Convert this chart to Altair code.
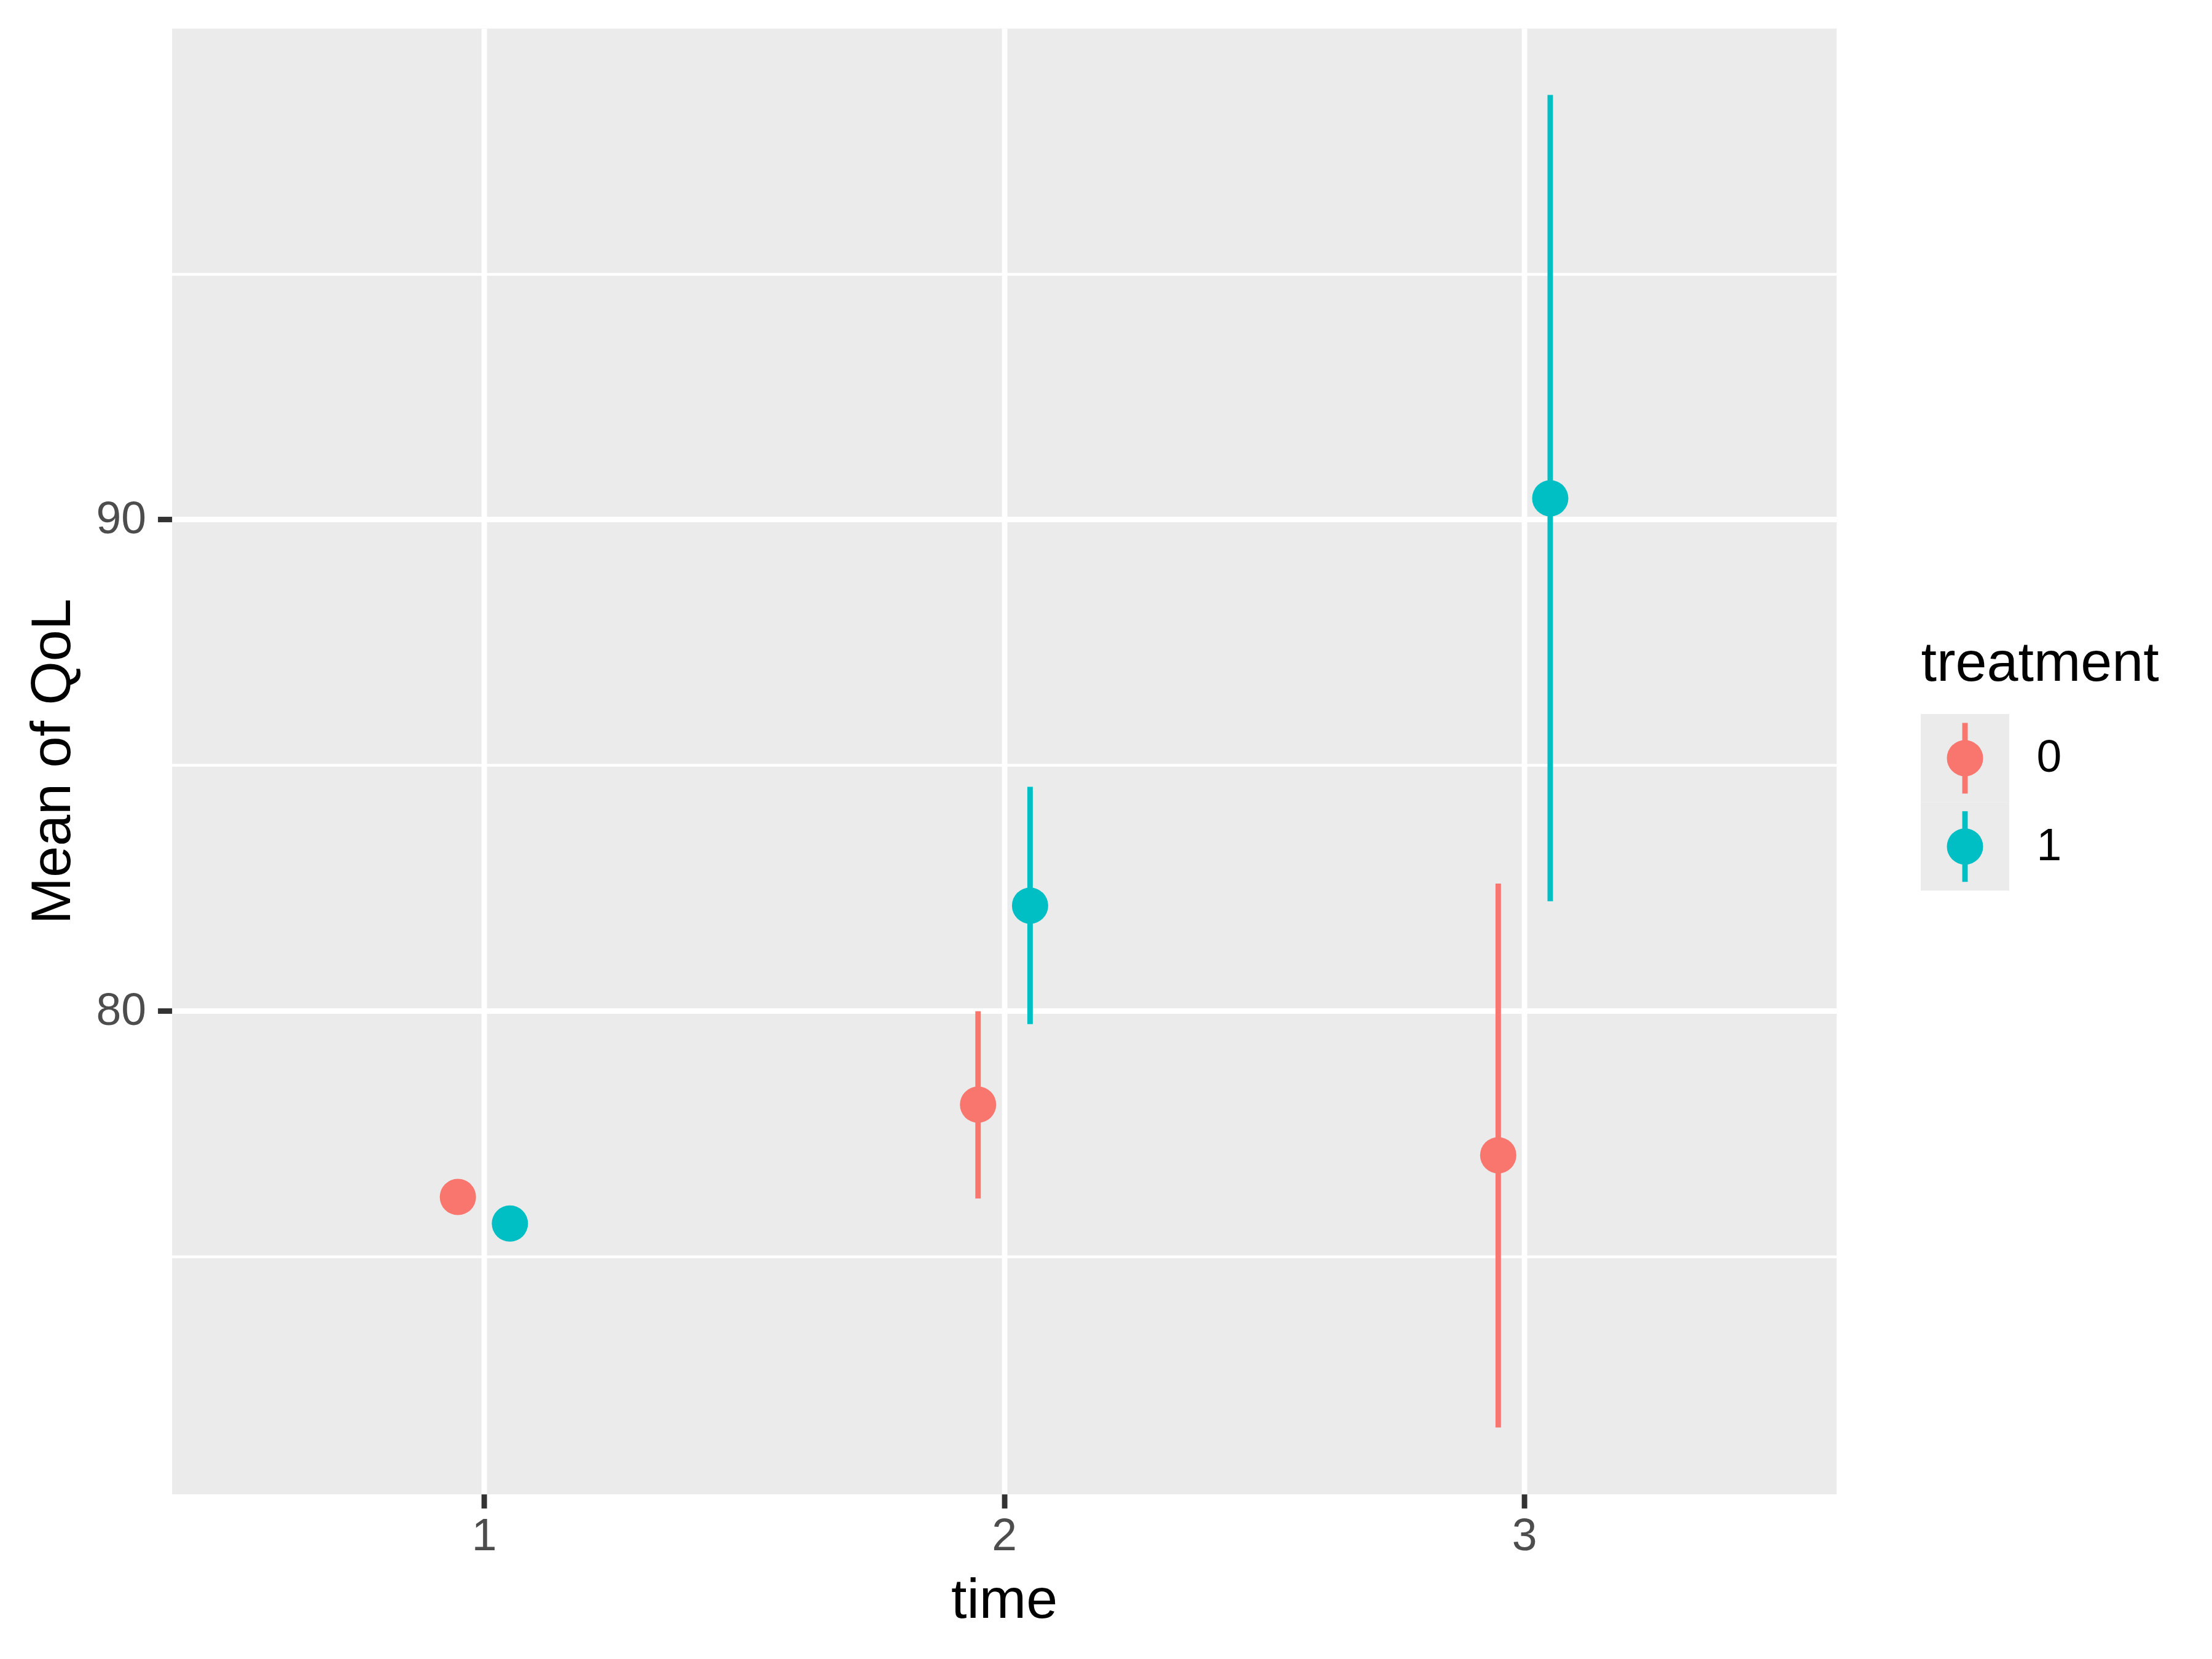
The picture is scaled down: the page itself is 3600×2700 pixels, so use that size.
import altair as alt
import pandas as pd

# ---- data ----
times = [1, 2, 3]
treatments = ["0", "1"]
mean_t0 = [76.21, 78.09, 77.06]
mean_t1 = [75.67, 82.14, 90.43]
lower_t0 = [None, 76.18, 71.52]
upper_t0 = [None, 79.99, 82.59]
lower_t1 = [None, 79.73, 82.23]
upper_t1 = [None, 84.56, 98.64]
colors = ["#F8766D", "#00BFC4"]
y_ticks = [75, 80, 85, 90, 95]

rows = []
for trt, means, lows, ups in [("0", mean_t0, lower_t0, upper_t0),
                              ("1", mean_t1, lower_t1, upper_t1)]:
    for t, m, lo, up in zip(times, means, lows, ups):
        rows.append({"time": t, "treatment": trt, "mean": m, "lower": lo, "upper": up})
df = pd.DataFrame(rows)
legend_df = pd.DataFrame({"treatment": treatments})

# y range expanded by 5% like ggplot
allv = [v for v in mean_t0 + mean_t1 + lower_t0 + upper_t0 + lower_t1 + upper_t1 if v is not None]
lo, hi = min(allv), max(allv)
pad = 0.05 * (hi - lo)
y_domain = [lo - pad, hi + pad]

W, H = 2709, 2385.6
FONT = "Liberation Sans"
LW = 8.9

color = alt.Color("treatment:N", scale=alt.Scale(domain=treatments, range=colors), legend=None)

x_axis = alt.Axis(values=times, format="d", title="time", grid=True, gridColor="white",
                  gridWidth=LW, domain=False, tickColor="#333333", tickWidth=LW, tickSize=23,
                  labelFont=FONT, labelFontSize=73.3, labelColor="#4D4D4D", labelPadding=10,
                  titleFont=FONT, titleFontSize=91.7, titleColor="black", titleFontWeight="normal",
                  titleY=200.4, titleBaseline="alphabetic")
x_enc = alt.X("xpos:Q", scale=alt.Scale(domain=[0.4, 3.6], nice=False, zero=False), axis=x_axis)

y_axis = alt.Axis(values=y_ticks, title="Mean of QoL", grid=True, gridColor="white",
                  gridWidth={"condition": {"test": "datum.value % 10 === 0", "value": LW}, "value": LW / 2},
                  tickOpacity={"condition": {"test": "datum.value % 10 === 0", "value": 1}, "value": 0},
                  labelExpr="datum.value % 10 === 0 ? datum.label : ''",
                  domain=False, tickColor="#333333", tickWidth=LW, tickSize=23,
                  labelFont=FONT, labelFontSize=73.3, labelColor="#4D4D4D", labelPadding=19,
                  titleFont=FONT, titleFontSize=91.7, titleColor="black", titleFontWeight="normal",
                  titleAngle=270, titleX=-166.6, titleY=H / 2, titleBaseline="alphabetic",
                  titleAlign="center")
y_scale = alt.Scale(domain=y_domain, nice=False, zero=False)

base = alt.Chart(df).transform_calculate(
    xpos="datum.time + (datum.treatment === '0' ? -0.05 : 0.05)"
)

rules = base.transform_filter("isValid(datum.lower) && isValid(datum.upper)").mark_rule(
    strokeWidth=LW
).encode(
    x=x_enc,
    y=alt.Y("lower:Q", scale=y_scale, axis=y_axis),
    y2="upper:Q",
    color=color,
)

points = base.mark_point(filled=True, shape="circle", size=3481, opacity=1).encode(
    x=x_enc,
    y=alt.Y("mean:Q", scale=y_scale, axis=y_axis),
    color=color,
)

main = alt.layer(rules, points)

# ---- legend drawn as a layer on its own band scale ----
leg_y_axis = alt.Axis(orient="right", ticks=False, tickSize=0, domain=False, grid=False,
                      labelPadding=325.4, labelFont=FONT, labelFontSize=73.3, labelColor="black",
                      title="treatment", titleAngle=0, titleX=137.4, titleY=1061,
                      titleAlign="left", titleBaseline="alphabetic", titleFont=FONT,
                      titleFontSize=91.7, titleColor="black", titleFontWeight="normal")
leg_y = alt.Y("treatment:N", scale=alt.Scale(domain=treatments, range=[1116, 1403.6],
                                             paddingInner=0, paddingOuter=0), axis=leg_y_axis)

leg_base = alt.Chart(legend_df)
leg_rect = leg_base.mark_rect(fill="#EBEBEB").encode(
    x=alt.value(2846.4), x2=alt.value(2990.4), y=leg_y
)
leg_tick = leg_base.mark_tick(orient="vertical", size=115, thickness=LW, opacity=1).encode(
    x=alt.value(2918.4), y=leg_y, color=color
)
leg_pt = leg_base.mark_point(filled=True, shape="circle", size=3481, opacity=1).encode(
    x=alt.value(2918.4), y=leg_y, color=color
)
legend = alt.layer(leg_rect, leg_tick, leg_pt)

chart = alt.layer(main, legend).resolve_scale(y="independent").properties(
    width=W, height=H,
    autosize=alt.AutoSizeParams(type="none"),
    padding={"left": 271.6, "top": 38, "right": 603.4, "bottom": 260.4},
    background="white",
).configure_view(fill="#EBEBEB", stroke="transparent")

chart.save("out.html", embed_options={"renderer": "svg", "actions": False})
